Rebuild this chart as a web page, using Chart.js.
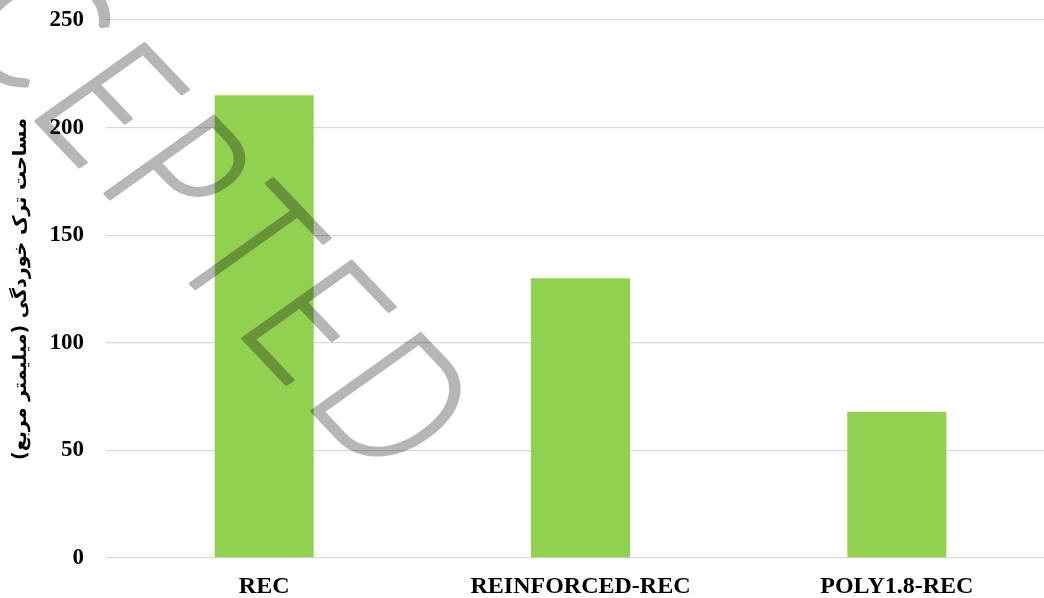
<!DOCTYPE html>
<html>
<head>
<meta charset="utf-8">
<script src="https://cdn.jsdelivr.net/npm/chart.js@4.4.0/dist/chart.umd.min.js"></script>
<style>
  html, body { margin: 0; padding: 0; background: #fff; overflow: hidden; }
  #wrap { position: absolute; left: 0; top: 0; width: 1055px; height: 598px; }
</style>
</head>
<body>
<div id="wrap"><canvas id="crackChart"></canvas></div>
<script>
// Cracked area for each specimen group
const specimens = ["REC", "REINFORCED-REC", "POLY1.8-REC"];
const crackArea = [215, 130, 68];

// y axis range and step
const yMin = 0;
const yMax = 250;
const yStep = 50;

const yTitle = "مساحت ترک خوردگی (میلیمتر مربع)";
const stampText = "ACCEPTED";

const barColor = "#92D050";
const gridColor = "#d9d9d9";
const stampColor = "#b6b6b6";
const labelFont = "'Liberation Serif', 'Times New Roman', serif";

// Slanted stamp: drawn on its own layer, then multiplied over the chart
const stampPlugin = {
  id: "stamp",
  afterDraw(chart) {
    const layer = document.createElement("canvas");
    layer.width = chart.canvas.width;
    layer.height = chart.canvas.height;
    const lc = layer.getContext("2d");
    lc.translate(33, 118);
    // text x runs down-right, text "up" runs up-right (slightly sheared)
    lc.transform(0.683, 0.718, -1.012, 0.722, 0, 0);
    lc.font = "300 152px Lato, Roboto, sans-serif";
    lc.letterSpacing = "13px";
    lc.fillStyle = stampColor;
    lc.strokeStyle = stampColor;
    lc.lineWidth = 2.5;
    lc.lineJoin = "round";
    lc.textBaseline = "alphabetic";
    const lead = lc.measureText("ACC").width + 12;
    lc.fillText(stampText, -lead, 0);
    lc.strokeText(stampText, -lead, 0);

    const ctx = chart.ctx;
    ctx.save();
    ctx.setTransform(1, 0, 0, 1, 0, 0);
    ctx.globalCompositeOperation = "multiply";
    ctx.drawImage(layer, 0, 0);
    ctx.restore();
  },
};

new Chart(document.getElementById("crackChart"), {
  type: "bar",
  data: {
    labels: specimens,
    datasets: [
      {
        data: crackArea,
        backgroundColor: barColor,
        borderWidth: 0,
        barPercentage: 0.313,
        categoryPercentage: 1,
      },
    ],
  },
  options: {
    responsive: true,
    maintainAspectRatio: false,
    animation: false,
    layout: { padding: { top: 20, right: 0, left: 0, bottom: 0 } },
    plugins: {
      legend: { display: false },
      tooltip: { enabled: false },
    },
    scales: {
      x: {
        grid: { display: false },
        border: { display: false },
        ticks: {
          color: "#000",
          font: { family: labelFont, size: 24, weight: "bold" },
          padding: 6,
          maxRotation: 0,
        },
        afterFit(scale) {
          scale.height = 40;
        },
      },
      y: {
        min: yMin,
        max: yMax,
        grid: { color: gridColor, lineWidth: 1.3, drawTicks: false },
        border: { display: false },
        ticks: {
          stepSize: yStep,
          color: "#000",
          font: { family: labelFont, size: 23, weight: "bold" },
          padding: 22,
        },
        title: {
          display: true,
          text: yTitle,
          color: "#000",
          font: { family: "'DejaVu Sans', sans-serif", size: 19, weight: "bold" },
          padding: { top: 10, bottom: 0 },
        },
        afterFit(scale) {
          scale.width = 106;
          scale.paddingTop = 0;
          scale.paddingBottom = 0;
        },
      },
    },
  },
  plugins: [stampPlugin],
});
</script>
</body>
</html>
